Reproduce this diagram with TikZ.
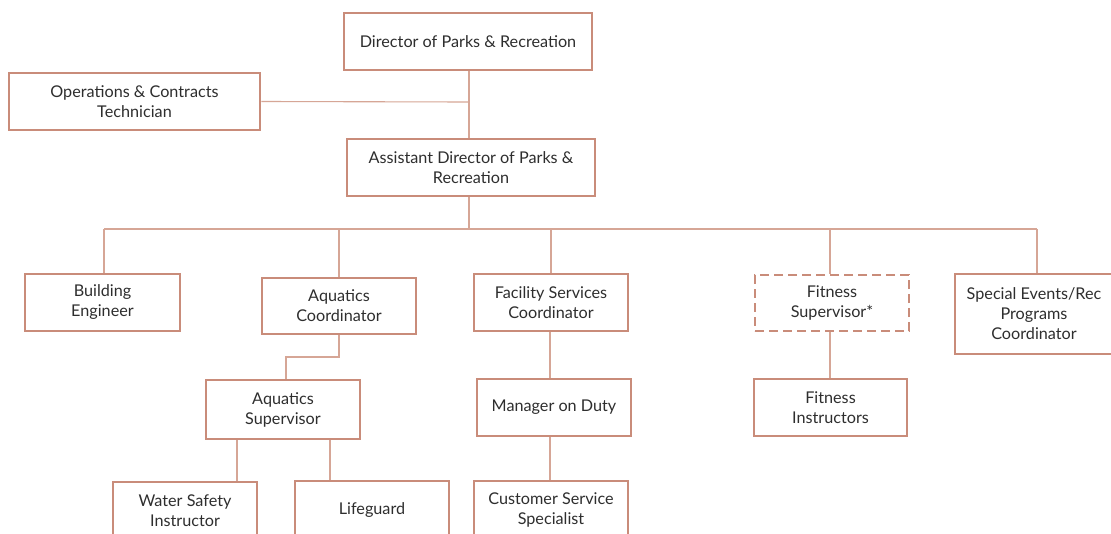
\documentclass[tikz,border=0pt]{standalone}
\usepackage{fontspec}
\setmainfont{Lato}
\definecolor{boxc}{RGB}{201,140,122}
\definecolor{linec}{RGB}{214,166,150}
\begin{document}
\begin{tikzpicture}[x=1pt,y=-1pt,
  box/.style={draw=boxc,line width=2.5pt,fill=white,align=center,inner sep=0pt,
    font=\fontsize{16.2}{20}\selectfont,text=black!82},
  dbox/.style={box,dashed,dash pattern=on 9pt off 5pt},
  conn/.style={draw=linec,line width=1.1pt}]
\useasboundingbox (0,0) rectangle (1111,533);
\clip (0,0) rectangle (1111,533);
\fill[white] (0,0) rectangle (1111,533);
% nodes
\node[box,minimum width=248pt,minimum height=57pt] (dir) at (468,41.5) {Director of Parks \& Recreation};
\node[box,minimum width=251pt,minimum height=57pt] (ops) at (134.5,101.5) {Operations \& Contracts\\Technician};
\node[box,minimum width=248pt,minimum height=57pt] (asst) at (471,167.5) {Assistant Director of Parks \&\\Recreation};
\node[box,minimum width=155pt,minimum height=57pt] (bld) at (102.5,302.5) {Building\\Engineer};
\node[box,minimum width=154pt,minimum height=56pt] (aqc) at (339,306) {Aquatics\\Coordinator};
\node[box,minimum width=154pt,minimum height=57pt] (fac) at (551,302.5) {Facility Services\\Coordinator};
\node[dbox,minimum width=154pt,minimum height=56pt] (fit) at (832,303) {Fitness\\Supervisor*};
\node[box,minimum width=158pt,minimum height=80pt] (spe) at (1034,314) {Special Events/Rec\\Programs\\Coordinator};
\node[box,minimum width=154pt,minimum height=59pt] (aqs) at (283,409.5) {Aquatics\\Supervisor};
\node[box,minimum width=154pt,minimum height=57pt] (mod) at (554,407.5) {Manager on Duty};
\node[box,minimum width=153pt,minimum height=57pt] (fin) at (830.5,407.5) {Fitness\\Instructors};
\node[box,minimum width=144pt,minimum height=58pt] (wsi) at (185,511) {Water Safety\\Instructor};
\node[box,minimum width=154pt,minimum height=58pt] (lg) at (372,510) {Lifeguard};
\node[box,minimum width=154pt,minimum height=58pt] (css) at (551,510) {Customer Service\\Specialist};
% connector coordinates
\coordinate (bus) at (469,229);
\coordinate (opsj) at (469,102);
\coordinate (aqj) at (286,357);
% connectors
\path[conn] (dir.south -| opsj) -- (asst.north -| opsj);
\path[conn] (ops.east) -- (opsj);
\path[conn] (asst.south -| bus) -- (bus);
\path[conn] (104,229) -- (1037,229);
\path[conn] (104,229) -- (bld.north -| 104,0);
\path[conn] (339,229) -- (aqc.north);
\path[conn] (551,229) -- (fac.north);
\path[conn] (830,229) -- (fit.north -| 830,0);
\path[conn] (1037,229) -- (spe.north -| 1037,0);
\path[conn] (aqc.south) |- (aqj) -- (aqs.north -| aqj);
\path[conn] (fac.south -| 550,0) -- (mod.north -| 550,0);
\path[conn] (mod.south -| 550,0) -- (css.north -| 550,0);
\path[conn] (fit.south -| 830,0) -- (fin.north -| 830,0);
\path[conn] (aqs.south -| 237,0) -- (wsi.north -| 237,0);
\path[conn] (aqs.south -| 330,0) -- (lg.north -| 330,0);
\end{tikzpicture}
\end{document}
